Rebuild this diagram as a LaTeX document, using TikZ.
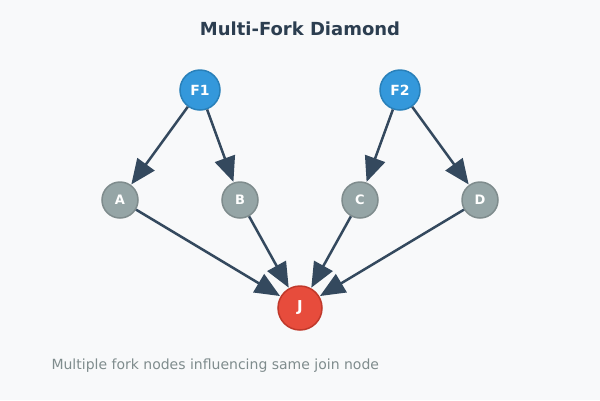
\documentclass[tikz,border=0pt]{standalone}
\usepackage{fontspec}
\setmainfont{DejaVu Sans}
\usetikzlibrary{arrows.meta}

\definecolor{bgcol}{HTML}{F8F9FA}
\definecolor{titlecol}{HTML}{2C3E50}
\definecolor{edgecol}{HTML}{34495E}
\definecolor{forkfill}{HTML}{3498DB}
\definecolor{forkline}{HTML}{2980B9}
\definecolor{taskfill}{HTML}{95A5A6}
\definecolor{taskline}{HTML}{7F8C8D}
\definecolor{joinfill}{HTML}{E74C3C}
\definecolor{joinline}{HTML}{C0392B}

\tikzset{
  forknode/.style={circle, fill=forkfill, draw=forkline, line width=1.5pt, minimum size=40pt, inner sep=0pt, text=white, font=\fontsize{14}{16}\selectfont\bfseries},
  tasknode/.style={circle, fill=taskfill, draw=taskline, line width=1.5pt, minimum size=36pt, inner sep=0pt, text=white, font=\fontsize{13}{15}\selectfont\bfseries},
  joinnode/.style={circle, fill=joinfill, draw=joinline, line width=1.5pt, minimum size=44pt, inner sep=0pt, text=white, font=\fontsize{15}{17}\selectfont\bfseries},
  flow/.style={draw=edgecol, line width=2.5pt, -{Triangle[length=25pt,width=21pt]}, shorten >=0.5pt}
}

\begin{document}
\begin{tikzpicture}[x=1pt,y=-1pt]
   \fill[bgcol] (0,0) rectangle (600,400);
   \useasboundingbox (0,0) rectangle (600,400);

   \node[text=titlecol, font=\fontsize{18}{20}\selectfont\bfseries] (title) at (300,29) {Multi-Fork Diamond};

   % fork nodes
   \node[forknode] (f1) at (200,90) {F1};
   \node[forknode] (f2) at (400,90) {F2};

   % tasks
   \node[tasknode] (a) at (120,200) {A};
   \node[tasknode] (b) at (240,200) {B};
   \node[tasknode] (c) at (360,200) {C};
   \node[tasknode] (d) at (480,200) {D};

   % join
   \node[joinnode] (j) at (300,308) {J};

   \draw[flow] (f1) -- (a);
   \draw[flow] (f1) -- (b);
   \draw[flow] (f2) -- (c);
   \draw[flow] (f2) -- (d);

   \draw[flow] (a) -- (j);
   \draw[flow] (b) -- (j);
   \draw[flow] (c) -- (j);
   \draw[flow] (d) -- (j);

   \node[anchor=west, text=taskline, font=\fontsize{14}{16}\selectfont] (note) at (48,366) {Multiple fork nodes influencing same join node};
\end{tikzpicture}
\end{document}
